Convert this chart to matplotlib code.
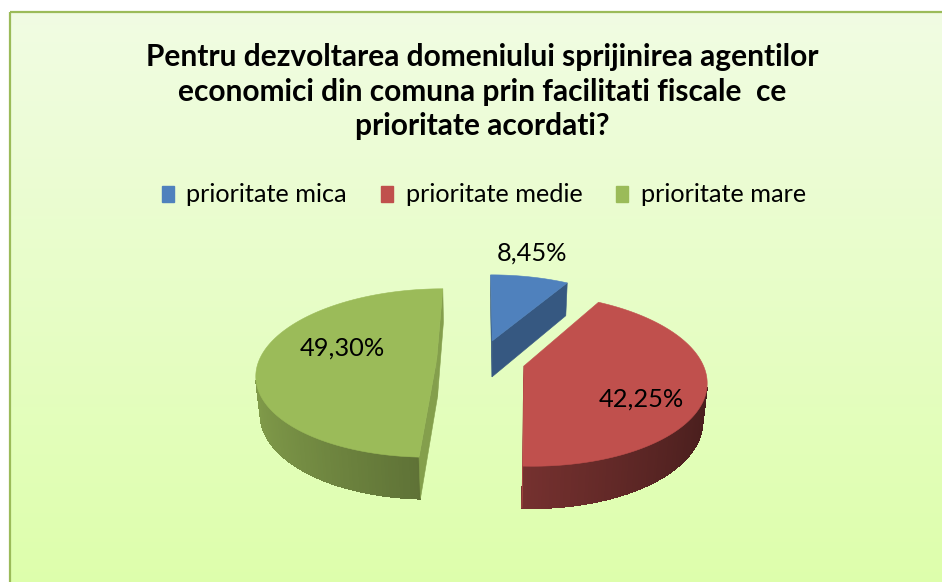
import numpy as np
import matplotlib
matplotlib.use("Agg")
import matplotlib.pyplot as plt
from matplotlib.patches import Polygon, Rectangle, Patch
from matplotlib.collections import PolyCollection
from matplotlib.colors import to_rgb

# ---------------------------------------
# Data
# ---------------------------------------

title = ("Pentru dezvoltarea domeniului sprijinirea agentilor\n"
         "economici din comuna prin facilitati fiscale  ce\n"
         "prioritate acordati?")

categories = ["prioritate mica", "prioritate medie", "prioritate mare"]
values = [8.45, 42.25, 49.30]
value_labels = ["8,45%", "42,25%", "49,30%"]
colors = ["#4F81BD", "#C0504D", "#9BBB59"]

# ---------------------------------------
# 3D view (pixel space)
# ---------------------------------------

CX, CY = 481, 360
ELEV = np.radians(27.6)
CA, SA = np.cos(ELEV), np.sin(ELEV)
DIST = 5.54
FOCAL = 983
THICK = 0.24
EXPLODE = 0.25

# label placement: radius along slice middle, extra depth / height
LABEL_R = [1.05, 0.625, 0.55]
LABEL_DV = [0.0, -0.19, 0.13]
LABEL_DZ = [0.155, 0.0, 0.0]

CAM = np.array([0.0, -DIST * CA, DIST * SA])


def project(u, v, z):
    qy = v + DIST * CA
    qz = z - DIST * SA
    depth = qy * CA - qz * SA
    Y = qy * SA + qz * CA
    return CX + FOCAL * u / depth, CY - FOCAL * Y / depth


def visible(normal, point):
    return np.dot(normal, CAM - np.asarray(point)) > 0


def shade(color, f):
    return tuple(np.clip(np.array(to_rgb(color)) * f, 0, 1))


fig = plt.figure(figsize=(9.42, 5.82), dpi=100)
ax = fig.add_axes([0, 0, 1, 1])

# panel background
grad = np.linspace(0, 1, 256)[:, None]
top_c = np.array([0.945, 0.988, 0.890])
bot_c = np.array([0.867, 1.0, 0.667])
img = top_c + (bot_c - top_c) * grad[..., None]
img = np.repeat(img, 2, axis=1)
ax.imshow(img, extent=[10, 960, 600, 12], aspect="auto", zorder=0)
ax.add_patch(Rectangle((10, 12), 950, 600, fill=False,
                       edgecolor="#9BBB59", linewidth=1.6, zorder=1))

ax.set_xlim(0, 942)
ax.set_ylim(582, 0)
ax.axis("off")

# ---------------------------------------
# Pie slices
# ---------------------------------------

fracs = np.array(values) / sum(values)
bounds = np.concatenate([[0], np.cumsum(fracs)]) * 2 * np.pi
slices = []
for i in range(len(values)):
    a0, a1 = bounds[i], bounds[i + 1]
    mid = (a0 + a1) / 2
    ou, ov = EXPLODE * np.sin(mid), EXPLODE * np.cos(mid)
    slices.append((i, a0, a1, mid, ou, ov))

# far slices first
slices.sort(key=lambda s: -(s[5] + 0.5 * np.cos(s[3])))

for i, a0, a1, mid, ou, ov in slices:
    col = colors[i]
    n = max(int((a1 - a0) / np.radians(1.0)), 4)
    ang = np.linspace(a0, a1, n + 1)
    ru = ou + np.sin(ang)
    rv = ov + np.cos(ang)

    # outer wall
    quads, fcs, top_edge, bot_edge = [], [], [], []
    for k in range(n):
        am = (ang[k] + ang[k + 1]) / 2
        nrm = np.array([np.sin(am), np.cos(am), 0])
        if not visible(nrm, (ou + np.sin(am), ov + np.cos(am), 0)):
            continue
        p0, p1 = project(ru[k], rv[k], 0), project(ru[k + 1], rv[k + 1], 0)
        q0, q1 = project(ru[k], rv[k], -THICK), project(ru[k + 1], rv[k + 1], -THICK)
        quads.append([p0, p1, q1, q0])
        fcs.append(shade(col, 0.6 - 0.23 * nrm[0]))
        if not top_edge:
            top_edge.append(p0)
            bot_edge.append(q0)
        top_edge.append(p1)
        bot_edge.append(q1)
    if quads:
        under = top_edge + bot_edge[::-1]
        ax.add_patch(Polygon(under, closed=True, facecolor=fcs[len(fcs) // 2],
                             edgecolor="none", zorder=2))
        ax.add_collection(PolyCollection(quads, facecolors=fcs, edgecolors=fcs,
                                         linewidths=0.6, antialiased=False,
                                         zorder=2))

    # cut faces
    for a, nrm in ((a0, np.array([-np.cos(a0), np.sin(a0), 0])),
                   (a1, np.array([np.cos(a1), -np.sin(a1), 0]))):
        eu, ev = ou + np.sin(a), ov + np.cos(a)
        if not visible(nrm, ((ou + eu) / 2, (ov + ev) / 2, 0)):
            continue
        pts = [project(ou, ov, 0), project(eu, ev, 0),
               project(eu, ev, -THICK), project(ou, ov, -THICK)]
        fc = shade(col, 0.68 if i == 0 else 0.85)
        ax.add_patch(Polygon(pts, closed=True, facecolor=fc, edgecolor=fc,
                             linewidth=0.4, zorder=2))

    # top face
    pts = [project(ou, ov, 0)] + [project(a, b, 0) for a, b in zip(ru, rv)]
    ax.add_patch(Polygon(pts, closed=True, facecolor=col, edgecolor=col,
                         linewidth=0.4, zorder=2))

    # value label
    r = LABEL_R[i]
    lx, ly = project(ou + r * np.sin(mid), ov + r * np.cos(mid) + LABEL_DV[i],
                     LABEL_DZ[i])
    ax.text(lx, ly, value_labels[i], ha="center", va="center",
            fontsize=18.3, family="Lato", color="black", zorder=5)

# ---------------------------------------
# Title and legend
# ---------------------------------------

ax.text(482, 91.5, title, ha="center", va="center", fontsize=21.5,
        family="Lato", fontweight="bold", linespacing=1.3, zorder=5)

handles = [Patch(facecolor=c, edgecolor=c) for c in colors]
leg = ax.legend(handles, categories, ncol=3, loc="center",
                bbox_to_anchor=(484 / 942, 1 - 195 / 582), frameon=False,
                prop={"family": "Lato", "size": 18.2},
                handlelength=0.47, handleheight=0.59, handletextpad=0.51,
                columnspacing=1.34)

plt.savefig("out.png", dpi=100)
plt.close()
